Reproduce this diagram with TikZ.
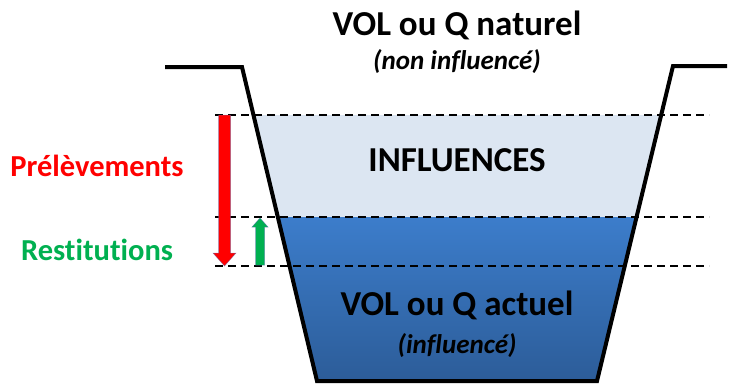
\documentclass[tikz,border=0pt]{standalone}
\usepackage{fontspec}
\setmainfont{Carlito}[Ligatures=NoCommon]
\usetikzlibrary{calc}
\definecolor{lightwater}{RGB}{220,230,242}
\definecolor{watertop}{RGB}{60,125,203}
\definecolor{waterbot}{RGB}{44,92,152}
\definecolor{prelred}{RGB}{255,0,0}
\definecolor{restgreen}{RGB}{0,176,80}
\definecolor{arrowedge}{RGB}{90,110,180}
\tikzset{
  bank/.style={line width=4pt, line join=miter},
  level/.style={dash pattern=on 8pt off 5pt, line width=1.6pt},
  title/.style={font=\fontsize{35}{38}\selectfont\bfseries, inner sep=0pt},
  subtitle/.style={font=\fontsize{27}{30}\selectfont\bfseries\itshape, inner sep=0pt},
  sidelabel/.style={font=\fontsize{30.5}{33}\selectfont\bfseries, inner sep=0pt},
  arrowshape/.style={draw=arrowedge, line width=0.5pt, line join=miter},
}
\begin{document}
\begin{tikzpicture}[x=1pt,y=-1pt]
\useasboundingbox (0,0) rectangle (731,383);
% channel corners
\coordinate (lt) at (165,67);
\coordinate (lc) at (242,67);
\coordinate (lb) at (317,381);
\coordinate (rb) at (597,381);
\coordinate (rc) at (673,66);
\coordinate (rt) at (727,66);
% water
\begin{scope}
  \clip (lc) -- (lb) -- (rb) -- (rc) -- cycle;
  \fill[lightwater] (200,115) rectangle (700,217);
  \shade[top color=watertop, bottom color=waterbot] (200,217) rectangle (700,383);
\end{scope}
% levels
\coordinate (l1a) at (215,115); \coordinate (l1b) at (709,115);
\coordinate (l2a) at (215,217); \coordinate (l2b) at (709,217);
\coordinate (l3a) at (215,266); \coordinate (l3b) at (709,266);
\draw[level] (l1a) -- (l1b);
\draw[level] (l2a) -- (l2b);
\draw[level] (l3a) -- (l3b);
% banks
\draw[bank] (lt) -- (lc) -- (lb) -- (rb) -- (rc) -- (rt);
% red arrow (prelevements)
\coordinate (rA) at (224.5,115);
\coordinate (rB) at (224.5,266);
\fill[prelred] ($(rA)+(-6,0)$) -- ($(rA)+(6,0)$) -- ($(rB)+(6,-13)$) -- ($(rB)+(11.5,-13)$) -- (rB) -- ($(rB)+(-11.5,-13)$) -- ($(rB)+(-6,-13)$) -- cycle;
\draw[arrowshape, draw opacity=0.6] ($(rA)+(-6,0)$) -- ($(rA)+(6,0)$) -- ($(rB)+(6,-13)$) -- ($(rB)+(11.5,-13)$) -- (rB) -- ($(rB)+(-11.5,-13)$) -- ($(rB)+(-6,-13)$) -- cycle;
% green arrow (restitutions)
\coordinate (gA) at (260,265);
\coordinate (gB) at (260,218);
\fill[restgreen] ($(gA)+(-4.5,0)$) -- ($(gB)+(-4.5,9)$) -- ($(gB)+(-8,9)$) -- (gB) -- ($(gB)+(8,9)$) -- ($(gB)+(4.5,9)$) -- ($(gA)+(4.5,0)$) -- cycle;
\draw[arrowshape, draw opacity=0.6] ($(gA)+(-4.5,0)$) -- ($(gB)+(-4.5,9)$) -- ($(gB)+(-8,9)$) -- (gB) -- ($(gB)+(8,9)$) -- ($(gB)+(4.5,9)$) -- ($(gA)+(4.5,0)$) -- cycle;
% texts
\node[title] (nat) at (457,25) {VOL ou Q naturel};
\node[subtitle] (natsub) at (457,62) {(non influencé)};
\node[title] (infl) at (457,160) {INFLUENCES};
\node[sidelabel, text=prelred] (prel) at (97,166) {Prélèvements};
\node[sidelabel, text=restgreen] (rest) at (97,250) {Restitutions};
\node[title] (act) at (457,305) {VOL ou Q actuel};
\node[subtitle] (actsub) at (457,346) {(influencé)};
\end{tikzpicture}
\end{document}
